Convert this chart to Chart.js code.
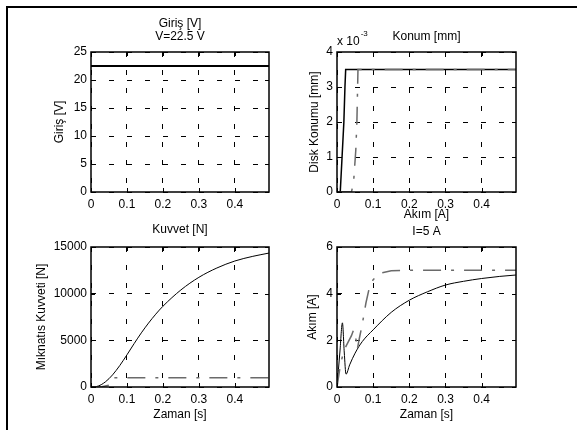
<!DOCTYPE html>
<html>
<head>
<meta charset="utf-8">
<script src="https://cdn.jsdelivr.net/npm/chart.js@4.4.1/dist/chart.umd.min.js"></script>
<style>
  body { margin: 0; background: #fff; width: 577px; height: 430px; overflow: hidden; position: relative; }
  canvas { position: absolute; }
  #cerceve { position: absolute; left: 6px; top: 6px; width: 600px; height: 440px;
             border-top: 2px solid #000; border-left: 2px solid #000; }
</style>
</head>
<body>
<div id="cerceve"></div>
<canvas id="giris"></canvas>
<canvas id="konum"></canvas>
<canvas id="kuvvet"></canvas>
<canvas id="akim"></canvas>
<script>
// zaman ekseni (s)
const xTicks = [0, 0.1, 0.2, 0.3, 0.4];
const xMax = 0.495;

// Giriş gerilimi [V]
const girisX = [0, 0.495];
const girisY = [22.5, 22.5];
const girisTicks = [0, 5, 10, 15, 20, 25];

// Disk konumu (m cinsinden, eksende x 10^-3)
const konumX = [0, 0.009, 0.014, 0.019, 0.022, 0.024, 0.495];
const konumY = [0, 0, 0.001, 0.002, 0.003, 0.0035, 0.0035];
const konumKesikX = [0, 0.04, 0.046, 0.052, 0.055, 0.057, 0.058, 0.495];
const konumKesikY = [0, 0, 0.0003, 0.0012, 0.002, 0.003, 0.0035, 0.0035];
const konumTicks = [0, 0.001, 0.002, 0.003, 0.004];

// Mıknatıs kuvveti [N]
const kuvvetX = [0, 0.02, 0.04, 0.06, 0.08, 0.1, 0.12, 0.14, 0.16, 0.18, 0.2, 0.25, 0.3, 0.35, 0.4, 0.45, 0.495];
const kuvvetY = [0, 100, 550, 1300, 2300, 3450, 4650, 5800, 6850, 7800, 8650, 10400, 11750, 12750, 13500, 14000, 14350];
const kuvvetKesikX = [0, 0.03, 0.05, 0.057, 0.062, 0.495];
const kuvvetKesikY = [0, 20, 200, 500, 1000, 1000];
const kuvvetTicks = [0, 5000, 10000, 15000];

// Akım [A]
const akimX = [0, 0.008, 0.015, 0.02, 0.025, 0.035, 0.05, 0.07, 0.1, 0.15, 0.2, 0.25, 0.3, 0.35, 0.4, 0.45, 0.495];
const akimY = [0, 1.5, 2.75, 1.5, 0.55, 0.95, 1.45, 1.95, 2.45, 3.2, 3.72, 4.08, 4.37, 4.53, 4.65, 4.74, 4.8];
const akimKesikX = [0, 0.01, 0.02, 0.03, 0.04, 0.046, 0.052, 0.056, 0.062, 0.07, 0.08, 0.09, 0.1, 0.12, 0.15, 0.2, 0.495];
const akimKesikY = [0, 1.0, 1.6, 1.9, 2.2, 2.45, 2.1, 1.6, 2.1, 2.7, 3.6, 4.3, 4.6, 4.88, 4.98, 5.0, 5.0];
const akimTicks = [0, 2, 4, 6];

const FS = 12;
Chart.defaults.font.family = '"Liberation Sans", Arial, sans-serif';
Chart.defaults.font.size = FS;
Chart.defaults.color = '#000';

const LH = 13.4;

// eksen kutusu ve içe bakan tick çizgileri
const cerceve = {
  id: 'cerceve',
  afterDraw(chart, args, opts) {
    const { ctx, chartArea: a, scales: { x, y } } = chart;
    ctx.save();
    ctx.strokeStyle = '#000';
    ctx.setLineDash([]);
    ctx.lineWidth = 1;
    ctx.beginPath();
    x.ticks.forEach(t => {
      const px = Math.round(x.getPixelForValue(t.value)) + 0.5;
      ctx.moveTo(px, a.bottom); ctx.lineTo(px, a.bottom - 4);
      ctx.moveTo(px, a.top); ctx.lineTo(px, a.top + 4);
    });
    y.ticks.forEach(t => {
      const py = Math.round(y.getPixelForValue(t.value)) + 0.5;
      ctx.moveTo(a.left, py); ctx.lineTo(a.left + 4, py);
      ctx.moveTo(a.right, py); ctx.lineTo(a.right - 4, py);
    });
    ctx.stroke();
    ctx.lineWidth = 1.5;
    ctx.strokeRect(a.left, a.top, a.right - a.left, a.bottom - a.top);
    if (opts.us) {
      ctx.fillStyle = '#000';
      ctx.textBaseline = 'middle';
      ctx.font = FS + 'px "Liberation Sans", Arial, sans-serif';
      ctx.fillText('x 10', a.left, a.top - 10.5);
      const w = ctx.measureText('x 10').width;
      ctx.font = '8px "Liberation Sans", Arial, sans-serif';
      ctx.fillText(opts.us, a.left + w + 1, a.top - 18.5);
    }
    ctx.restore();
  }
};

function seri(x, y, opt) {
  return {
    data: x.map((v, i) => ({ x: v, y: y[i] })),
    borderColor: opt.kesik ? '#6a6a6a' : '#000',
    borderWidth: opt.w || 1,
    borderDash: opt.kesik ? [18, 10, 3, 10] : [],
    pointRadius: 0,
    tension: opt.yumusak ? 0.4 : 0,
    cubicInterpolationMode: opt.yumusak ? 'monotone' : 'default'
  };
}

function panel(p) {
  const cv = document.getElementById(p.id);
  cv.width = p.cw; cv.height = p.ch;
  cv.style.left = p.cx + 'px'; cv.style.top = p.cy + 'px';
  const tPadTop = p.titleY - p.cy - LH / 2;
  const tPadBot = (p.top - p.cy) - tPadTop - p.title.length * LH;
  new Chart(cv, {
    type: 'line',
    data: { datasets: p.series },
    options: {
      responsive: false,
      animation: false,
      layout: { padding: { left: 0, top: 0, bottom: 0, right: p.cx + p.cw - p.right } },
      plugins: {
        legend: { display: false },
        tooltip: { enabled: false },
        title: {
          display: true, text: p.title, color: '#000', fullSize: false,
          font: { size: FS, weight: 'normal', lineHeight: LH / FS },
          padding: { top: tPadTop, bottom: tPadBot }
        },
        cerceve: { us: p.us || null }
      },
      scales: {
        x: {
          type: 'linear', min: 0, max: xMax,
          afterBuildTicks: s => { s.ticks = xTicks.map(v => ({ value: v })); },
          afterFit: s => { s.height = p.cy + p.ch - p.bottom; },
          ticks: { padding: 5, maxRotation: 0, callback: v => String(+v.toFixed(2)) },
          grid: { color: '#000', lineWidth: 1, drawTicks: false },
          border: { display: false, dash: [5, 13] },
          title: {
            display: !!p.xTitle, text: p.xTitle || '',
            font: { size: FS, lineHeight: LH / FS },
            padding: { top: 0, bottom: p.xTitle ? p.cy + p.ch - p.xTitleY - LH / 2 : 0 }
          }
        },
        y: {
          type: 'linear', min: p.yTicks[0], max: p.yTicks[p.yTicks.length - 1],
          afterBuildTicks: s => { s.ticks = p.yTicks.map(v => ({ value: v })); },
          afterFit: s => { s.width = p.left - p.cx; },
          ticks: { padding: 4, callback: p.yFmt },
          grid: { color: '#000', lineWidth: 1, drawTicks: false },
          border: { display: false, dash: [5, 13] },
          title: {
            display: true, text: p.yTitle,
            font: { size: FS, lineHeight: LH / FS },
            padding: { top: p.yTitleX - p.cx - LH / 2, bottom: 0 }
          }
        }
      }
    },
    plugins: [cerceve]
  });
}

panel({
  id: 'giris', cx: 12, cy: 10, cw: 278, ch: 205,
  left: 91, right: 269, top: 52, bottom: 192,
  title: ['Giriş [V]', 'V=22.5 V'], titleY: 23.3,
  yTitle: 'Giriş [V]', yTitleX: 60,
  yTicks: girisTicks, yFmt: v => String(v),
  series: [seri(girisX, girisY, { w: 2 })]
});

panel({
  id: 'konum', cx: 292, cy: 10, cw: 280, ch: 215,
  left: 337, right: 516, top: 52, bottom: 192,
  title: ['Konum [mm]'], titleY: 36.7, us: '-3',
  yTitle: 'Disk Konumu [mm]', yTitleX: 315,
  xTitle: 'Akım [A]', xTitleY: 214.3,
  yTicks: konumTicks, yFmt: v => String(Math.round(v * 1000)),
  series: [seri(konumKesikX, konumKesikY, { kesik: true, w: 1.5 }), seri(konumX, konumY, { w: 1.5 })]
});

panel({
  id: 'kuvvet', cx: 12, cy: 215, cw: 278, ch: 212,
  left: 91, right: 269, top: 247, bottom: 387,
  title: ['Kuvvet [N]'], titleY: 230,
  yTitle: 'Mıknatıs Kuvveti [N]', yTitleX: 42,
  xTitle: 'Zaman [s]', xTitleY: 415,
  yTicks: kuvvetTicks, yFmt: v => String(v),
  series: [seri(kuvvetKesikX, kuvvetKesikY, { kesik: true, w: 1.5 }), seri(kuvvetX, kuvvetY, { yumusak: true })]
});

panel({
  id: 'akim', cx: 292, cy: 215, cw: 280, ch: 212,
  left: 337, right: 516, top: 247, bottom: 387,
  title: ['I=5 A'], titleY: 232,
  yTitle: 'Akım [A]', yTitleX: 313,
  xTitle: 'Zaman [s]', xTitleY: 415,
  yTicks: akimTicks, yFmt: v => String(v),
  series: [seri(akimKesikX, akimKesikY, { kesik: true, w: 1.5 }), seri(akimX, akimY, { yumusak: true })]
});
</script>
</body>
</html>
